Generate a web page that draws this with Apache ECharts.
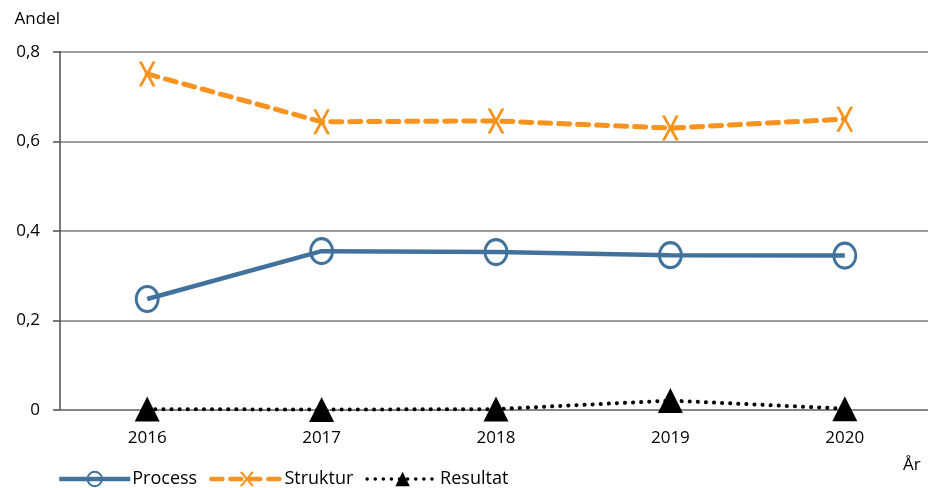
<!DOCTYPE html>
<html><head><meta charset="utf-8">
<script src="https://cdn.jsdelivr.net/npm/echarts@6/dist/echarts.min.js"></script>
<style>html,body{margin:0;padding:0;background:#fff;overflow:hidden;width:928px;height:488px}#c{width:934px;height:488px}</style>
</head><body><div id="c"></div>
<script>
const years = ['2016','2017','2018','2019','2020'];
const process = [0.248, 0.355, 0.353, 0.346, 0.345];
const struktur = [0.751, 0.644, 0.646, 0.630, 0.650];
const resultat = [0.002, 0.001, 0.002, 0.021, 0.003];
const yTicks = [0, 0.2, 0.4, 0.6, 0.8];

const FONT = 'Open Sans';
const blue = '#41729b', orange = '#f7931e';
const crossPath = 'path://M0,0L3,0L8,9.5L13,0L16,0L9.6,12L16,24L13,24L8,14.5L3,24L0,24L6.4,12Z';

const chart = echarts.init(document.getElementById('c'));
chart.setOption({
  animation: false,
  textStyle: {fontFamily: FONT},
  grid: {left: 60, width: 872, top: 52, height: 358, containLabel: false},
  legend: {
    left: 57, top: 470, padding: 0, itemWidth: 71, itemHeight: 18, itemGap: 12,
    textStyle: {fontFamily: FONT, fontSize: 18, color: '#000', padding: [0,0,0,-3]},
    data: [
      {name: 'Process', lineStyle: {width: 4.5}},
      {name: 'Struktur', lineStyle: {width: 4.5}},
      {name: 'Resultat', lineStyle: {width: 3.5}}
    ]
  },
  xAxis: {
    type: 'category', data: years, boundaryGap: true,
    axisLine: {lineStyle: {color: '#7f7f7f', width: 1.5}},
    axisTick: {show: false},
    axisLabel: {color: '#000', fontSize: 17, margin: 20, fontFamily: FONT}
  },
  yAxis: {
    type: 'value', min: 0, max: 0.8, interval: 0.2,
    name: 'Andel', nameLocation: 'end', nameGap: 24,
    nameTextStyle: {color: '#000', fontSize: 17, align: 'right', fontFamily: FONT},
    axisLine: {show: true, lineStyle: {color: '#4d4d4d', width: 1.5}},
    axisTick: {show: true, length: 7, lineStyle: {color: '#4d4d4d', width: 1.5}},
    axisLabel: {color: '#000', fontSize: 17, margin: 20, fontFamily: FONT,
      formatter: v => yTicks.includes(Math.round(v*10)/10) ? String(Math.round(v*10)/10).replace('.', ',') : ''},
    splitLine: {lineStyle: {color: '#7f7f7f', width: 1.5}}
  },
  graphic: [{type: 'text', left: 903, top: 457, style: {text: 'År', font: '17px "Open Sans"', fill: '#000'}}],
  series: [
    {name: 'Process', type: 'line', data: process, z: 3,
      symbol: 'circle', symbolSize: [22, 25],
      lineStyle: {color: blue, width: 4.5},
      itemStyle: {color: 'rgba(255,255,255,0)', borderColor: blue, borderWidth: 3}},
    {name: 'Struktur', type: 'line', data: struktur, z: 3,
      symbol: crossPath, symbolSize: [17, 25],
      lineStyle: {color: orange, width: 5, type: [11, 8], cap: 'round'},
      itemStyle: {color: orange}},
    {name: 'Resultat', type: 'line', data: resultat, z: 4,
      symbol: 'triangle', symbolSize: [25, 25],
      lineStyle: {color: '#000', width: 4, type: [0.1, 8], cap: 'round'},
      itemStyle: {color: '#000'}}
  ]
});
</script></body></html>
